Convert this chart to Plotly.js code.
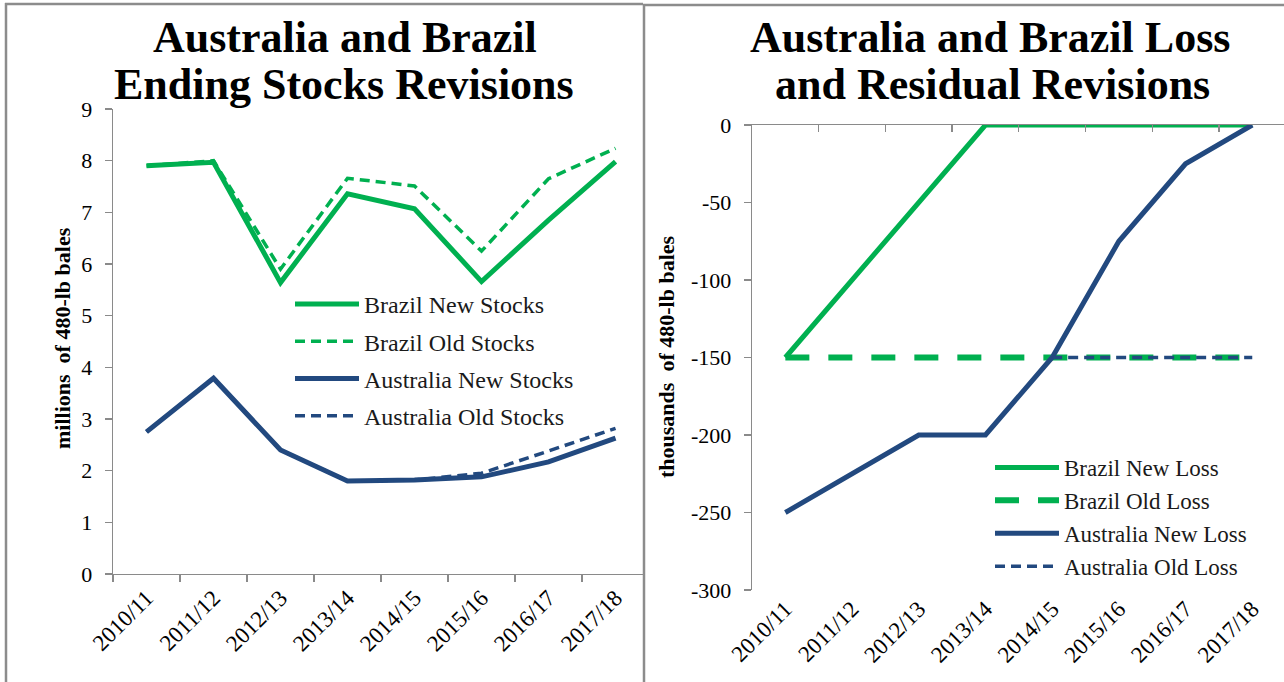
<!DOCTYPE html>
<html><head><meta charset="utf-8">
<script src="https://cdn.plot.ly/plotly-3.0.1.min.js"></script>
<style>html,body{margin:0;padding:0;background:#fff}#chart{width:1284px;height:682px}</style>
</head><body><div id="chart"></div><script>
const seasons = ['2010/11','2011/12','2012/13','2013/14','2014/15','2015/16','2016/17','2017/18'];
const brazilNewStocks = [7.90, 7.97, 5.64, 7.36, 7.07, 5.66, 6.85, 7.98];
const brazilOldStocks = [7.90, 8.00, 5.90, 7.66, 7.51, 6.25, 7.65, 8.24];
const australiaNewStocks = [2.75, 3.79, 2.40, 1.80, 1.82, 1.88, 2.17, 2.63];
const australiaOldStocks = [2.75, 3.79, 2.40, 1.80, 1.82, 1.95, 2.38, 2.82];
const brazilNewLoss = [-150, -100, -50, 0, 0, 0, 0, 0];
const brazilOldLoss = [-150, -150, -150, -150, -150, -150, -150, -150];
const australiaNewLoss = [-250, -225, -200, -200, -150, -75, -25, 0];
const australiaOldLoss = [null, null, null, null, -150, -150, -150, -150];
const stockTicks = [0, 1, 2, 3, 4, 5, 6, 7, 8, 9];
const lossTicks = [0, -50, -100, -150, -200, -250, -300];
const lossTickText = ['0', '-50', '-100', '-150', '-200', '-250', '-300'];
const boundaryTicks = [0.5, 1.5, 2.5, 3.5, 4.5, 5.5, 6.5];

const W = 1284, H = 682;
const px = x => x / W;
const py = y => 1 - y / H;
const GREEN = '#00B050', BLUE = '#22497F', AXIS = '#8a8a8a';
const SERIF = 'Liberation Serif, Times New Roman, serif';

function line(name, x, y, xa, ya, color, width, dash, legend, group) {
  const t = {type: 'scatter', mode: 'lines', name: name, x: x, y: y, xaxis: xa, yaxis: ya,
    line: {color: color, width: width, dash: dash}, legend: legend,
    cliponaxis: false, hoverinfo: 'skip', connectgaps: false};
  if (group) t.legendgroup = name;
  return t;
}

const traces = [
  line('Brazil New Stocks', seasons, brazilNewStocks, 'x', 'y', GREEN, 5, 'solid', 'legend', true),
  line('Brazil Old Stocks', seasons, brazilOldStocks, 'x', 'y', GREEN, 3.5, '10px,6px', 'legend', true),
  line('Australia New Stocks', seasons, australiaNewStocks, 'x', 'y', BLUE, 5, 'solid', 'legend', true),
  line('Australia Old Stocks', seasons, australiaOldStocks, 'x', 'y', BLUE, 3.5, '10px,6px', 'legend', true),
  line('Brazil New Loss', seasons, brazilNewLoss, 'x2', 'y2', GREEN, 5, 'solid', 'legend2', false),
  line('Brazil Old Loss', seasons, brazilOldLoss, 'x2', 'y2', GREEN, 6, '24px,19px', 'legend2', false),
  line('Australia New Loss', seasons, australiaNewLoss, 'x2', 'y2', BLUE, 5, 'solid', 'legend2', false),
  line('Australia Old Loss', seasons, australiaOldLoss, 'x2', 'y2', BLUE, 3.5, '10px,6px', 'legend2', false),
  {type: 'scatter', mode: 'lines', x: [], y: [], xaxis: 'x3', yaxis: 'y2', showlegend: false, hoverinfo: 'skip'}
];

const tickFont = {family: SERIF, size: 22, color: '#000'};
const xTickFont = {family: SERIF, size: 23, color: '#000'};

const layout = {
  width: W, height: H,
  margin: {l: 0, r: 0, t: 0, b: 0, pad: 0},
  paper_bgcolor: '#fff', plot_bgcolor: 'rgba(0,0,0,0)',
  showlegend: true,
  xaxis: {domain: [px(113), px(643)], anchor: 'y', type: 'category', range: [-0.5, 7.41],
    showgrid: false, zeroline: false, showline: true, linecolor: AXIS, linewidth: 1.3,
    ticks: 'outside', tickson: 'boundaries', ticklen: 7, tickcolor: AXIS, tickwidth: 1.3,
    tickangle: -45, tickfont: xTickFont, fixedrange: true},
  yaxis: {domain: [py(574), py(109)], anchor: 'x', range: [0, 9], tickvals: stockTicks,
    showgrid: false, zeroline: false, showline: true, linecolor: AXIS, linewidth: 1.3,
    ticks: 'outside', ticklen: 7, tickcolor: AXIS, tickwidth: 1.3, ticklabelstandoff: 8,
    tickfont: tickFont, fixedrange: true},
  xaxis2: {domain: [px(752), 1], anchor: 'y2', type: 'category', range: [-0.5, 7.476],
    showgrid: false, zeroline: false, showline: false, ticks: '',
    tickangle: -45, tickfont: xTickFont, fixedrange: true},
  xaxis3: {domain: [px(752), 1], anchor: 'y2', overlaying: 'x2', side: 'top', type: 'linear',
    range: [-0.5, 7.476], tickvals: boundaryTicks, showticklabels: false,
    showgrid: false, zeroline: false, showline: true, linecolor: AXIS, linewidth: 1.3,
    ticks: 'inside', ticklen: 7, tickcolor: AXIS, tickwidth: 1.3, fixedrange: true},
  yaxis2: {domain: [py(590), py(125)], anchor: 'x2', range: [-300, 0],
    tickmode: 'array', tickvals: lossTicks, ticktext: lossTickText,
    showgrid: false, zeroline: false, showline: true, linecolor: AXIS, linewidth: 1.3,
    ticks: 'outside', ticklen: 7, tickcolor: AXIS, tickwidth: 1.3, ticklabelstandoff: 8,
    tickfont: tickFont, fixedrange: true},
  legend: {x: px(290), y: py(282), xanchor: 'left', yanchor: 'top', bgcolor: 'rgba(0,0,0,0)',
    font: {family: SERIF, size: 24, color: '#1a1a1a'}, itemwidth: 64, tracegroupgap: 3,
    traceorder: 'grouped'},
  legend2: {x: px(990), y: py(446), xanchor: 'left', yanchor: 'top', bgcolor: 'rgba(0,0,0,0)',
    font: {family: SERIF, size: 23, color: '#1a1a1a'}, itemwidth: 64,
    traceorder: 'normal'},
  annotations: [
    {text: 'Australia and Brazil', x: px(345), y: py(38), xref: 'paper', yref: 'paper', showarrow: false,
      xanchor: 'center', yanchor: 'middle', font: {family: SERIF, size: 44, weight: 'bold', color: '#000'}},
    {text: 'Ending Stocks Revisions', x: px(344), y: py(84), xref: 'paper', yref: 'paper', showarrow: false,
      xanchor: 'center', yanchor: 'middle', font: {family: SERIF, size: 44, weight: 'bold', color: '#000'}},
    {text: 'Australia and Brazil Loss', x: px(990), y: py(38), xref: 'paper', yref: 'paper', showarrow: false,
      xanchor: 'center', yanchor: 'middle', font: {family: SERIF, size: 44, weight: 'bold', color: '#000'}},
    {text: 'and Residual Revisions', x: px(993), y: py(84), xref: 'paper', yref: 'paper', showarrow: false,
      xanchor: 'center', yanchor: 'middle', font: {family: SERIF, size: 44, weight: 'bold', color: '#000'}},
    {text: 'millions  of 480-lb bales', x: px(62), y: py(338), xref: 'paper', yref: 'paper', showarrow: false,
      textangle: -90, xanchor: 'center', yanchor: 'middle', font: {family: SERIF, size: 22, weight: 'bold', color: '#000'}},
    {text: 'thousands  of 480-lb bales', x: px(666), y: py(357), xref: 'paper', yref: 'paper', showarrow: false,
      textangle: -90, xanchor: 'center', yanchor: 'middle', font: {family: SERIF, size: 22, weight: 'bold', color: '#000'}}
  ],
  shapes: [
    {type: 'line', xref: 'paper', yref: 'paper', x0: px(6), x1: px(6), y0: py(3), y1: 0, line: {color: '#8c8c8c', width: 2.5}},
    {type: 'line', xref: 'paper', yref: 'paper', x0: px(5), x1: px(643), y0: py(4), y1: py(4), line: {color: '#8c8c8c', width: 2.5}},
    {type: 'line', xref: 'paper', yref: 'paper', x0: px(644), x1: px(644), y0: py(4), y1: 0, line: {color: '#8c8c8c', width: 2.5}},
    {type: 'line', xref: 'paper', yref: 'paper', x0: px(643), x1: 1, y0: py(5), y1: py(5), line: {color: '#8c8c8c', width: 2.5}}
  ]
};

Plotly.newPlot('chart', traces, layout, {displayModeBar: false, staticPlot: true});
</script></body></html>
